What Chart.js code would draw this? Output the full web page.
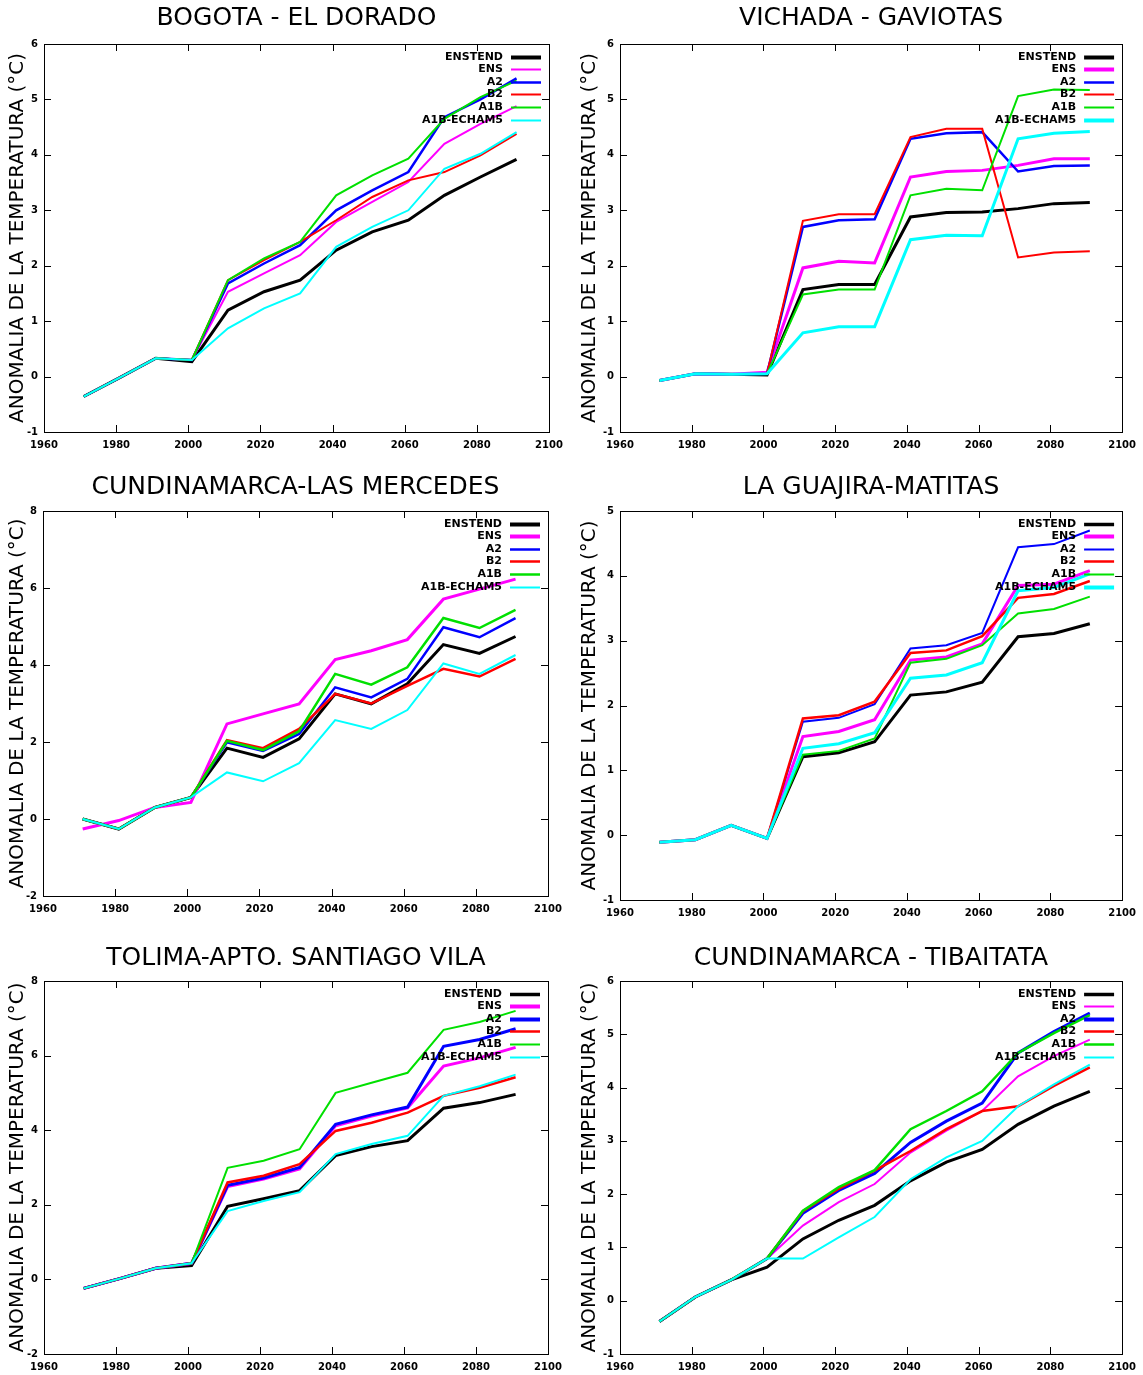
<!DOCTYPE html>
<html>
<head>
<meta charset="utf-8">
<title>Anomalia de la temperatura</title>
<script src="https://cdn.jsdelivr.net/npm/chart.js@4.4.0/dist/chart.umd.min.js"></script>
<style>
  body { margin: 0; background: #fff; width: 1143px; height: 1375px; position: relative; overflow: hidden; }
  canvas { position: absolute; }
</style>
</head>
<body>
<canvas id="c1"></canvas>
<canvas id="c2"></canvas>
<canvas id="c3"></canvas>
<canvas id="c4"></canvas>
<canvas id="c5"></canvas>
<canvas id="c6"></canvas>
<script>
// decadal points, same for every station
var years = [1971, 1981, 1991, 2001, 2011, 2021, 2031, 2041, 2051, 2061, 2071, 2081, 2091];
var seriesNames = ["ENSTEND", "ENS", "A2", "B2", "A1B", "A1B-ECHAM5"];
var seriesColors = ["#000000", "#ff00ff", "#0000ff", "#ff0000", "#00e000", "#00ffff"];
var xTicks = [1960, 1980, 2000, 2020, 2040, 2060, 2080, 2100];

// each station: one row per series, in the order of seriesNames
var bogota = [
  [-0.36, -0.02, 0.33, 0.27, 1.20, 1.53, 1.74, 2.28, 2.61, 2.82, 3.27, 3.60, 3.92],
  [-0.36, -0.02, 0.33, 0.30, 1.53, 1.86, 2.19, 2.79, 3.15, 3.51, 4.20, 4.56, 4.88],
  [-0.36, -0.02, 0.33, 0.30, 1.68, 2.04, 2.37, 3.00, 3.36, 3.69, 4.68, 5.00, 5.38],
  [-0.36, -0.02, 0.33, 0.30, 1.74, 2.10, 2.43, 2.82, 3.24, 3.54, 3.69, 3.99, 4.38],
  [-0.36, -0.02, 0.33, 0.30, 1.74, 2.13, 2.43, 3.27, 3.63, 3.93, 4.65, 5.04, 5.34],
  [-0.36, -0.02, 0.33, 0.30, 0.87, 1.23, 1.50, 2.34, 2.70, 3.00, 3.75, 4.02, 4.41]
];
var vichada = [
  [-0.07, 0.05, 0.04, 0.03, 1.57, 1.66, 1.66, 2.88, 2.96, 2.97, 3.03, 3.12, 3.14],
  [-0.07, 0.05, 0.04, 0.08, 1.96, 2.08, 2.05, 3.60, 3.70, 3.72, 3.81, 3.93, 3.93],
  [-0.07, 0.05, 0.04, 0.05, 2.70, 2.82, 2.84, 4.29, 4.39, 4.41, 3.70, 3.80, 3.81],
  [-0.07, 0.05, 0.04, 0.05, 2.81, 2.93, 2.93, 4.32, 4.47, 4.47, 2.15, 2.24, 2.26],
  [-0.07, 0.05, 0.04, 0.05, 1.48, 1.57, 1.57, 3.27, 3.39, 3.36, 5.06, 5.18, 5.17],
  [-0.07, 0.05, 0.04, 0.05, 0.79, 0.90, 0.90, 2.47, 2.55, 2.54, 4.29, 4.39, 4.42]
];
var mercedes = [
  [0.00, -0.26, 0.30, 0.56, 1.84, 1.60, 2.08, 3.25, 2.99, 3.51, 4.53, 4.30, 4.74],
  [-0.26, -0.04, 0.30, 0.43, 2.47, 2.73, 2.99, 4.14, 4.37, 4.66, 5.71, 5.97, 6.23],
  [0.00, -0.26, 0.30, 0.56, 1.99, 1.77, 2.21, 3.42, 3.16, 3.64, 4.98, 4.72, 5.22],
  [0.00, -0.26, 0.30, 0.56, 2.05, 1.84, 2.34, 3.25, 3.00, 3.46, 3.90, 3.70, 4.16],
  [0.00, -0.26, 0.30, 0.56, 2.03, 1.79, 2.28, 3.77, 3.49, 3.94, 5.22, 4.96, 5.43],
  [0.00, -0.26, 0.30, 0.56, 1.21, 0.98, 1.45, 2.57, 2.34, 2.83, 4.04, 3.77, 4.26]
];
var matitas = [
  [-0.11, -0.07, 0.15, -0.05, 1.21, 1.27, 1.44, 2.16, 2.21, 2.36, 3.06, 3.11, 3.26],
  [-0.11, -0.07, 0.15, -0.05, 1.52, 1.60, 1.78, 2.70, 2.75, 2.95, 3.85, 3.87, 4.08],
  [-0.11, -0.07, 0.15, -0.05, 1.75, 1.81, 2.02, 2.88, 2.93, 3.12, 4.44, 4.49, 4.70],
  [-0.11, -0.07, 0.15, -0.05, 1.80, 1.85, 2.06, 2.81, 2.85, 3.07, 3.66, 3.72, 3.92],
  [-0.11, -0.07, 0.15, -0.05, 1.24, 1.30, 1.49, 2.66, 2.72, 2.93, 3.42, 3.49, 3.68],
  [-0.11, -0.07, 0.15, -0.05, 1.34, 1.41, 1.58, 2.42, 2.47, 2.66, 3.77, 3.82, 4.03]
];
var tolima = [
  [-0.24, 0.02, 0.30, 0.37, 1.96, 2.16, 2.38, 3.32, 3.56, 3.72, 4.59, 4.74, 4.96],
  [-0.24, 0.02, 0.30, 0.43, 2.49, 2.69, 2.96, 4.12, 4.38, 4.60, 5.72, 5.94, 6.22],
  [-0.24, 0.02, 0.30, 0.43, 2.52, 2.72, 3.00, 4.16, 4.41, 4.62, 6.25, 6.43, 6.72],
  [-0.24, 0.02, 0.30, 0.43, 2.60, 2.78, 3.09, 3.98, 4.20, 4.47, 4.92, 5.14, 5.42],
  [-0.24, 0.02, 0.30, 0.43, 2.99, 3.18, 3.49, 5.00, 5.27, 5.54, 6.69, 6.90, 7.20],
  [-0.24, 0.02, 0.30, 0.43, 1.83, 2.10, 2.34, 3.36, 3.63, 3.85, 4.92, 5.18, 5.49]
];
var tibaitata = [
  [-0.39, 0.07, 0.39, 0.63, 1.16, 1.51, 1.79, 2.25, 2.60, 2.84, 3.31, 3.65, 3.93],
  [-0.39, 0.07, 0.39, 0.79, 1.41, 1.85, 2.19, 2.78, 3.19, 3.56, 4.21, 4.59, 4.90],
  [-0.39, 0.07, 0.39, 0.79, 1.64, 2.07, 2.39, 2.97, 3.37, 3.71, 4.65, 5.05, 5.40],
  [-0.39, 0.07, 0.39, 0.79, 1.68, 2.10, 2.44, 2.81, 3.22, 3.56, 3.65, 4.03, 4.38],
  [-0.39, 0.07, 0.39, 0.79, 1.69, 2.13, 2.45, 3.22, 3.56, 3.93, 4.65, 5.02, 5.36],
  [-0.39, 0.07, 0.39, 0.79, 0.79, 1.19, 1.57, 2.28, 2.69, 3.00, 3.65, 4.06, 4.43]
];

Chart.defaults.font.family = "'DejaVu Sans', sans-serif";
Chart.defaults.color = "#000";

// page geometry: canvas box and wanted plot area [left, top, right, bottom]
var panels = [
  { id: "c1", title: "BOGOTA - EL DORADO", data: bogota, widths: [4, 2, 2.5, 2, 2, 2],
    yMin: -1, yMax: 6, yStep: 1, box: [0, 0, 571, 465], area: [44, 44, 549, 432], titleY: 18, ylabX: 18 },
  { id: "c2", title: "VICHADA - GAVIOTAS", data: vichada, widths: [4, 4, 2.5, 2, 2, 4],
    yMin: -1, yMax: 6, yStep: 1, box: [571, 0, 572, 465], area: [620, 44, 1126, 432], titleY: 18, ylabX: 590 },
  { id: "c3", title: "CUNDINAMARCA-LAS MERCEDES", data: mercedes, widths: [4, 4, 2.5, 2.5, 2.5, 2],
    yMin: -2, yMax: 8, yStep: 2, box: [0, 465, 571, 470], area: [43, 511, 548, 896], titleY: 487, ylabX: 18 },
  { id: "c4", title: "LA GUAJIRA-MATITAS", data: matitas, widths: [3.5, 4, 2, 2.5, 2, 4],
    yMin: -1, yMax: 5, yStep: 1, box: [571, 465, 572, 470], area: [620, 511, 1126, 900], titleY: 487, ylabX: 590 },
  { id: "c5", title: "TOLIMA-APTO. SANTIAGO VILA", data: tolima, widths: [3.5, 4, 4, 2.5, 2, 2],
    yMin: -2, yMax: 8, yStep: 2, box: [0, 935, 571, 440], area: [44, 981, 548, 1354], titleY: 958, ylabX: 18 },
  { id: "c6", title: "CUNDINAMARCA - TIBAITATA", data: tibaitata, widths: [3.5, 2, 4, 2.5, 2.5, 2],
    yMin: -1, yMax: 6, yStep: 1, box: [571, 935, 572, 440], area: [620, 981, 1126, 1354], titleY: 958, ylabX: 590 }
];

// gnuplot look: closed frame, ticks pointing inwards, key in the top right corner
var gnuplotFrame = {
  id: "gnuplotFrame",
  afterDatasetsDraw: function(chart, args, opts) {
    var ctx = chart.ctx, a = chart.chartArea;
    var xs = chart.scales.x, ys = chart.scales.y;
    ctx.save();
    ctx.strokeStyle = "#000";
    ctx.lineWidth = 1;
    ctx.strokeRect(Math.round(a.left) + 0.5, Math.round(a.top) + 0.5,
                   Math.round(a.right - a.left), Math.round(a.bottom - a.top));
    ctx.beginPath();
    ys.ticks.forEach(function(t) {
      var py = Math.round(ys.getPixelForValue(t.value)) + 0.5;
      ctx.moveTo(a.left, py); ctx.lineTo(a.left + 7, py);
      ctx.moveTo(a.right, py); ctx.lineTo(a.right - 7, py);
    });
    xs.ticks.forEach(function(t) {
      var px = Math.round(xs.getPixelForValue(t.value)) + 0.5;
      ctx.moveTo(px, a.bottom); ctx.lineTo(px, a.bottom - 7);
      ctx.moveTo(px, a.top); ctx.lineTo(px, a.top + 7);
    });
    ctx.stroke();

    ctx.font = "bold 11px 'DejaVu Sans'";
    ctx.textAlign = "right";
    ctx.textBaseline = "middle";
    chart.data.datasets.forEach(function(ds, i) {
      var ky = Math.round(a.top + 12.5 + i * 12.6) + 0.5;
      ctx.fillStyle = "#000";
      ctx.fillText(ds.label, a.right - 46, ky);
      ctx.strokeStyle = ds.borderColor;
      ctx.lineWidth = opts.keyWidths[i];
      ctx.beginPath();
      ctx.moveTo(a.right - 38, ky);
      ctx.lineTo(a.right - 8, ky);
      ctx.stroke();
    });
    ctx.restore();
  }
};

panels.forEach(function(p) {
  var canvas = document.getElementById(p.id);
  var bx = p.box[0], by = p.box[1], bw = p.box[2], bh = p.box[3];
  canvas.width = bw; canvas.height = bh;
  canvas.style.left = bx + "px"; canvas.style.top = by + "px";

  var yWidth = p.area[0] - bx;
  var xHeight = 26;
  var titleTop = p.titleY - by - 15;
  var titleBottom = p.area[1] - by - 30 - titleTop;

  var datasets = seriesNames.map(function(name, i) {
    return {
      label: name,
      data: years.map(function(yr, k) { return { x: yr, y: p.data[i][k] }; }),
      borderColor: seriesColors[i],
      backgroundColor: seriesColors[i],
      borderWidth: Math.min(p.widths[i], 3),
      pointRadius: 0,
      tension: 0,
      fill: false,
      order: seriesNames.length - i
    };
  });

  new Chart(canvas.getContext("2d"), {
    type: "line",
    data: { datasets: datasets },
    options: {
      responsive: false,
      animation: false,
      events: [],
      layout: { padding: { left: 0, top: 0, right: bx + bw - p.area[2], bottom: by + bh - p.area[3] - xHeight } },
      plugins: {
        legend: { display: false },
        tooltip: { enabled: false },
        title: {
          display: true,
          text: p.title,
          fullSize: false,
          font: { size: 25, weight: "normal", lineHeight: 1.2 },
          padding: { top: titleTop, bottom: titleBottom }
        },
        gnuplotFrame: { keyWidths: p.widths }
      },
      scales: {
        x: {
          type: "linear",
          min: 1960,
          max: 2100,
          afterFit: function(s) { s.height = xHeight; },
          afterBuildTicks: function(s) { s.ticks = xTicks.map(function(v) { return { value: v }; }); },
          grid: { display: false, drawTicks: false },
          border: { display: false },
          ticks: {
            autoSkip: false, maxRotation: 0, padding: 7,
            font: { size: 10, weight: "bold" },
            callback: function(v) { return String(v); }
          }
        },
        y: {
          min: p.yMin,
          max: p.yMax,
          afterFit: function(s) { s.width = yWidth; },
          grid: { display: false, drawTicks: false },
          border: { display: false },
          ticks: {
            stepSize: p.yStep, autoSkip: false, padding: 6,
            font: { size: 10, weight: "bold" },
            callback: function(v) { return String(v); }
          },
          title: {
            display: true,
            text: "ANOMALIA DE LA TEMPERATURA (°C)",
            font: { size: 20, lineHeight: 1.2 },
            padding: { top: p.ylabX - bx - 12, bottom: 0 }
          }
        }
      }
    },
    plugins: [gnuplotFrame]
  });
});
</script>
</body>
</html>
